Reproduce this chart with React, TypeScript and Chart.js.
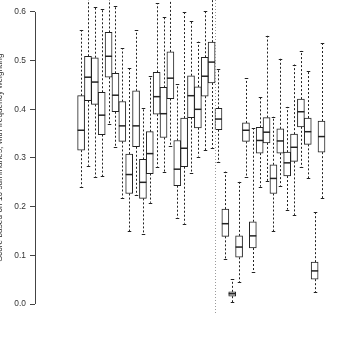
import React, { useEffect, useRef } from 'react';
import { Chart, registerables } from 'chart.js';

Chart.register(...registerables);

// ---- data ----
const groups = [
  1, 2, 3, 4, 5, 6, 7, 8, 9, 10, 11, 12, 13, 14, 15, 16, 17, 18,
  19, 20, 21, 22, 23, 24, 25, 26, 27, 28, 29, 30, 31, 32, 33, 34, 35, 36,
];
const whiskerLow = [
  0.241, 0.284, 0.26, 0.263, 0.37, 0.323, 0.217, 0.149, 0.223, 0.144, 0.208, 0.282,
  0.272, 0.325, 0.176, 0.165, 0.27, 0.303, 0.316, 0.321, 0.291, 0.092, 0.0035, 0.045,
  0.26, 0.065, 0.241, 0.253, 0.149, 0.243, 0.194, 0.183, 0.281, 0.258, 0.024, 0.217,
];
const quartile1 = [
  0.316, 0.418, 0.41, 0.348, 0.466, 0.395, 0.334, 0.227, 0.323, 0.217, 0.268, 0.39,
  0.342, 0.422, 0.243, 0.282, 0.383, 0.362, 0.427, 0.454, 0.358, 0.139, 0.016, 0.096,
  0.334, 0.115, 0.31, 0.331, 0.227, 0.31, 0.263, 0.293, 0.364, 0.328, 0.051, 0.312,
];
const medians = [
  0.357, 0.466, 0.456, 0.388, 0.509, 0.429, 0.366, 0.266, 0.366, 0.25, 0.309, 0.426,
  0.391, 0.464, 0.277, 0.32, 0.428, 0.4, 0.468, 0.497, 0.38, 0.165, 0.021, 0.117,
  0.357, 0.14, 0.336, 0.353, 0.258, 0.335, 0.29, 0.322, 0.395, 0.354, 0.068, 0.344,
];
const quartile3 = [
  0.428, 0.509, 0.506, 0.435, 0.558, 0.474, 0.416, 0.308, 0.438, 0.297, 0.354, 0.476,
  0.445, 0.518, 0.336, 0.382, 0.469, 0.446, 0.507, 0.538, 0.402, 0.195, 0.025, 0.14,
  0.372, 0.169, 0.363, 0.383, 0.286, 0.36, 0.312, 0.349, 0.421, 0.382, 0.086, 0.376,
];
const whiskerHigh = [
  0.563, 0.66, 0.611, 0.607, 0.66, 0.612, 0.525, 0.484, 0.562, 0.402, 0.468, 0.618,
  0.59, 0.66, 0.451, 0.599, 0.581, 0.539, 0.601, 0.66, 0.482, 0.272, 0.051, 0.251,
  0.464, 0.361, 0.426, 0.551, 0.385, 0.504, 0.405, 0.492, 0.52, 0.479, 0.19, 0.536,
];
const yTickValues = [0, 0.1, 0.2, 0.3, 0.4, 0.5, 0.6];
const yTickLabels = ['0.0', '0.1', '0.2', '0.3', '0.4', '0.5', '0.6'];
const yTitle = 'Score based on 10 summaries, with frequency weighting';
const separatorAt = 20.5;

const FONT = '"Liberation Sans", Arial, Helvetica, sans-serif';
const INK = '#222';

const boxExtras = {
  id: 'boxExtras',
  afterDatasetsDraw(chart: any) {
    const { ctx, chartArea, scales } = chart;
    const x = scales.x;
    const y = scales.y;
    ctx.save();
    ctx.beginPath();
    ctx.rect(chartArea.left, chartArea.top, chartArea.right - chartArea.left, chartArea.bottom - chartArea.top);
    ctx.clip();

    // dotted separator
    const sx = Math.round(x.getPixelForValue(separatorAt)) + 0.5;
    ctx.strokeStyle = '#9a9a9a';
    ctx.lineWidth = 1;
    ctx.setLineDash([1, 2]);
    ctx.beginPath();
    ctx.moveTo(sx, chartArea.top);
    ctx.lineTo(sx, chartArea.bottom);
    ctx.stroke();

    const half = 3.5;
    const staple = 1.75;
    groups.forEach((g, i) => {
      const cx = Math.round(x.getPixelForValue(g)) + 0.5;
      const yLo = y.getPixelForValue(whiskerLow[i]);
      const yQ1 = y.getPixelForValue(quartile1[i]);
      const yMed = y.getPixelForValue(medians[i]);
      const yQ3 = y.getPixelForValue(quartile3[i]);
      const yHi = y.getPixelForValue(whiskerHigh[i]);

      ctx.strokeStyle = INK;
      ctx.lineWidth = 1;
      ctx.setLineDash([2, 2]);
      ctx.beginPath();
      ctx.moveTo(cx, yQ3);
      ctx.lineTo(cx, yHi);
      ctx.moveTo(cx, yQ1);
      ctx.lineTo(cx, yLo);
      ctx.stroke();

      ctx.setLineDash([]);
      ctx.beginPath();
      ctx.moveTo(cx - staple, Math.round(yHi) + 0.5);
      ctx.lineTo(cx + staple, Math.round(yHi) + 0.5);
      ctx.moveTo(cx - staple, Math.round(yLo) + 0.5);
      ctx.lineTo(cx + staple, Math.round(yLo) + 0.5);
      ctx.stroke();

      ctx.lineWidth = 1.5;
      ctx.beginPath();
      ctx.moveTo(x.getPixelForValue(g) - half, yMed);
      ctx.lineTo(x.getPixelForValue(g) + half, yMed);
      ctx.stroke();
    });
    ctx.restore();

    // y axis line between the extreme ticks (R style)
    ctx.save();
    ctx.strokeStyle = '#444';
    ctx.lineWidth = 1;
    const ax = chartArea.left + 0.5;
    ctx.beginPath();
    ctx.moveTo(ax, y.getPixelForValue(yTickValues[0]));
    ctx.lineTo(ax, y.getPixelForValue(yTickValues[yTickValues.length - 1]));
    ctx.stroke();
    ctx.restore();
  },
};

export default function App() {
  const canvasRef = useRef<HTMLCanvasElement | null>(null);

  useEffect(() => {
    const canvas = canvasRef.current;
    if (!canvas) return;
    const chart = new Chart(canvas, {
      type: 'bar',
      data: {
        datasets: [
          {
            data: groups.map((g, i) => ({ x: g, y: [quartile1[i], quartile3[i]] })) as any,
            backgroundColor: '#ffffff',
            borderColor: INK,
            borderWidth: 1,
            borderSkipped: false,
            barThickness: 7,
          },
        ],
      },
      options: {
        responsive: false,
        animation: false,
        devicePixelRatio: 1,
        layout: { padding: { top: 0, right: 0, bottom: 33, left: 0 } },
        plugins: {
          legend: { display: false },
          tooltip: { enabled: false },
        },
        scales: {
          x: {
            type: 'linear',
            min: -1.01,
            max: 36.61,
            display: false,
          },
          y: {
            type: 'linear',
            min: -0.0226,
            max: 0.6246,
            afterBuildTicks: (scale: any) => {
              scale.ticks = yTickValues.map((v) => ({ value: v }));
            },
            afterFit: (scale: any) => {
              scale.width = 35;
              scale.paddingTop = 0;
              scale.paddingBottom = 0;
            },
            grid: {
              display: true,
              drawOnChartArea: false,
              drawTicks: true,
              tickLength: 5,
              color: '#444',
            },
            border: { display: false },
            ticks: {
              padding: 4,
              color: '#333',
              font: { family: FONT, size: 8.4 },
              callback: (_v: any, idx: number) => yTickLabels[idx],
            },
            title: {
              display: true,
              text: yTitle,
              color: '#333',
              font: { family: FONT, size: 8.3 },
              padding: { top: -5.5, bottom: 0 },
            },
          },
        },
      },
      plugins: [boxExtras],
    });
    return () => chart.destroy();
  }, []);

  return (
    <div style={{ position: 'fixed', left: 0, top: 0, width: 358, height: 348, background: '#fff' }}>
      <canvas ref={canvasRef} width={358} height={348} style={{ display: 'block', width: 358, height: 348 }} />
    </div>
  );
}
